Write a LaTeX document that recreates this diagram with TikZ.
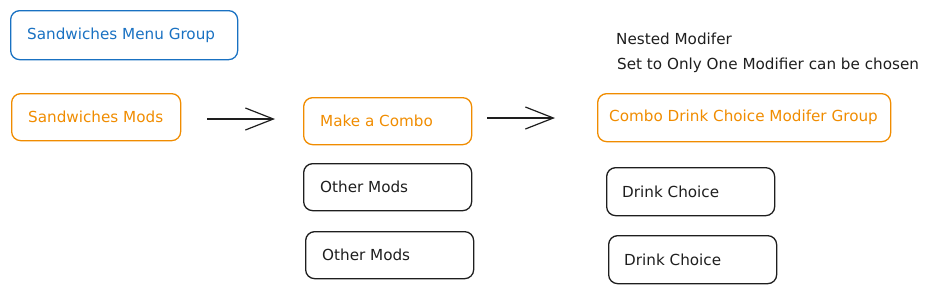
\documentclass[tikz,border=0pt]{standalone}
\usepackage{fontspec}
\setmainfont{DejaVu Sans}
\usetikzlibrary{arrows.meta}
\definecolor{exblue}{HTML}{1971C2}
\definecolor{exorange}{HTML}{F08C00}
\definecolor{exblack}{HTML}{1E1E1E}
\begin{document}
\begin{tikzpicture}[x=1pt,y=-1pt,
  font=\fontsize{15.2}{17}\selectfont,
  box/.style={draw, rounded corners=9pt, line width=1.3pt, inner sep=0pt, anchor=north west},
  bluebox/.style={box, draw=exblue},
  orangebox/.style={box, draw=exorange},
  blackbox/.style={box, draw=exblack},
  lbl/.style={anchor=west, inner sep=0pt},
  conn/.style={draw=exblack, line width=1.2pt, -{Straight Barb[length=28pt,width=22pt,line width=1.2pt]}},
  note/.style={text=exblack, anchor=west, inner sep=0pt}]
\useasboundingbox (0,0) rectangle (941,293);
\node[bluebox, minimum width=227pt, minimum height=49pt] (smg) at (10,10) {};
\node[orangebox, minimum width=169pt, minimum height=47pt] (smods) at (11,93) {};
\node[orangebox, minimum width=168pt, minimum height=47pt] (combo) at (303,97) {};
\node[orangebox, minimum width=293pt, minimum height=48pt] (drinkgrp) at (597,93) {};
\node[blackbox, minimum width=168pt, minimum height=47pt] (other1) at (303,163) {};
\node[blackbox, minimum width=168pt, minimum height=47pt] (other2) at (305,231) {};
\node[blackbox, minimum width=168pt, minimum height=48pt] (drink1) at (606,167) {};
\node[blackbox, minimum width=168pt, minimum height=48pt] (drink2) at (608,235) {};
\node[lbl, text=exblue] (smg-t) at ([xshift=17pt]smg.west) {Sandwiches Menu Group};
\node[lbl, text=exorange] (smods-t) at ([xshift=17pt]smods.west) {Sandwiches Mods};
\node[lbl, text=exorange] (combo-t) at ([xshift=17pt]combo.west) {Make a Combo};
\node[lbl, text=exorange] (drinkgrp-t) at ([xshift=12pt]drinkgrp.west) {Combo Drink Choice Modifer Group};
\node[lbl, text=exblack] (other1-t) at ([xshift=17pt]other1.west) {Other Mods};
\node[lbl, text=exblack] (other2-t) at ([xshift=17pt]other2.west) {Other Mods};
\node[lbl, text=exblack] (drink1-t) at ([xshift=16pt]drink1.west) {Drink Choice};
\node[lbl, text=exblack] (drink2-t) at ([xshift=16pt]drink2.west) {Drink Choice};
\node[note] (nested) at (616,39) {Nested Modifer};
\node[note] (setto) at (617,65) {Set to Only One Modifier can be chosen};
\draw[conn, shorten <=26pt, shorten >=28pt] (smods.east |- 0,119) -- (combo.west |- 0,119);
\draw[conn, shorten <=15pt, shorten >=42pt] (combo.east |- 0,118) -- (drinkgrp.west |- 0,118);
\end{tikzpicture}
\end{document}
